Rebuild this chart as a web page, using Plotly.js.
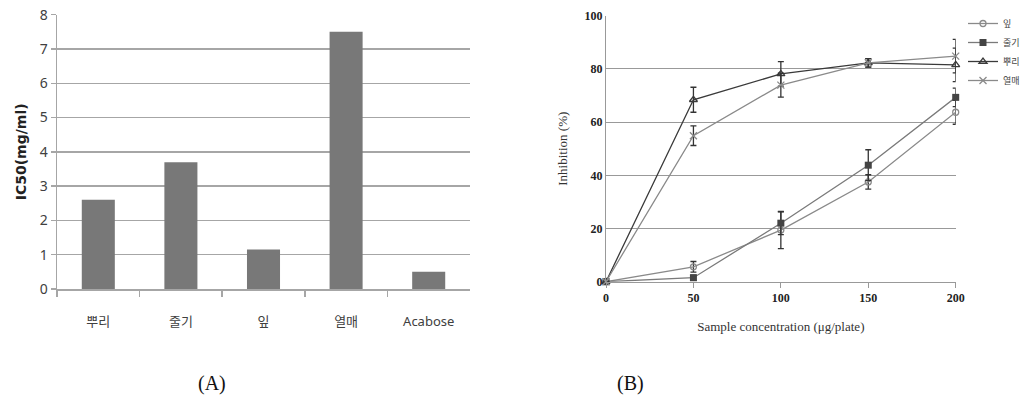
<!DOCTYPE html>
<html>
<head>
<meta charset="utf-8">
<script src="https://cdn.plot.ly/plotly-3.0.1.min.js"></script>
<style>
  html, body { margin: 0; padding: 0; background: #fff; }
  #chart { width: 1022px; height: 400px; }
</style>
</head>
<body>
<div id="chart"></div>
<script>
// (A) IC50 by plant part
const parts = ['뿌리', '줄기', '잎', '열매', 'Acabose'];
const ic50 = [2.6, 3.7, 1.15, 7.5, 0.5];

// (B) inhibition vs sample concentration
const conc = [0, 50, 100, 150, 200];
const leaf = [0, 5.6, 19.4, 37.5, 63.7];
const leafErr = [0, 2.0, 7.0, 2.7, 4.5];
const stem = [0, 1.5, 22.0, 43.8, 69.3];
const stemErr = [0, 1.0, 4.3, 5.8, 3.5];
const root = [0, 68.4, 78.1, 82.3, 81.5];
const rootErr = [0, 4.7, 4.6, 1.6, 6.3];
const fruit = [0, 54.9, 73.9, 82.3, 84.8];
const fruitErr = [0, 3.7, 4.5, 1.6, 6.3];
const seriesNames = ['잎', '줄기', '뿌리', '열매'];

const sansKR = '"Noto Sans", "Noto Sans CJK KR", sans-serif';
const serif = '"Liberation Serif", "DejaVu Serif", serif';

function errBar(vals) {
  return { type: 'data', array: vals, symmetric: true, color: '#333', thickness: 1.3, width: 3 };
}

const traces = [
  {
    type: 'bar', x: parts, y: ic50, xaxis: 'x', yaxis: 'y',
    marker: { color: '#787878' }, showlegend: false, hoverinfo: 'x+y'
  },
  {
    type: 'scatter', mode: 'lines+markers', name: seriesNames[0],
    x: conc, y: leaf, error_y: errBar(leafErr), xaxis: 'x2', yaxis: 'y2',
    line: { color: '#8a8a8a', width: 1.3 },
    marker: { symbol: 'circle-open', size: 6, color: '#8a8a8a', line: { width: 1.3 } },
    cliponaxis: false
  },
  {
    type: 'scatter', mode: 'lines+markers', name: seriesNames[1],
    x: conc, y: stem, error_y: errBar(stemErr), xaxis: 'x2', yaxis: 'y2',
    line: { color: '#7a7a7a', width: 1.3 },
    marker: { symbol: 'square', size: 7, color: '#444' },
    cliponaxis: false
  },
  {
    type: 'scatter', mode: 'lines+markers', name: seriesNames[2],
    x: conc, y: root, error_y: errBar(rootErr), xaxis: 'x2', yaxis: 'y2',
    line: { color: '#3a3a3a', width: 1.3 },
    marker: { symbol: 'triangle-up-open', size: 7, color: '#3a3a3a', line: { width: 1.3 } },
    cliponaxis: false
  },
  {
    type: 'scatter', mode: 'lines+markers', name: seriesNames[3],
    x: conc, y: fruit, error_y: errBar(fruitErr), xaxis: 'x2', yaxis: 'y2',
    line: { color: '#8a8a8a', width: 1.3 },
    marker: { symbol: 'x-thin-open', size: 7, color: '#8a8a8a', line: { width: 1.3, color: '#8a8a8a' } },
    cliponaxis: false
  }
];

const W = 1022, H = 400;
const layout = {
  width: W, height: H,
  margin: { l: 0, r: 0, t: 0, b: 0, autoexpand: false },
  paper_bgcolor: '#fff', plot_bgcolor: '#fff',
  bargap: 0.6,
  showlegend: true,
  legend: {
    xref: 'container', yref: 'container',
    x: 963 / W, y: 1 - 9 / H, xanchor: 'left', yanchor: 'top',
    font: { family: sansKR, size: 9, color: '#444' },
    itemwidth: 30, tracegroupgap: 0, bgcolor: 'rgba(0,0,0,0)'
  },
  xaxis: {
    domain: [57 / W, 470 / W], anchor: 'y',
    type: 'category', tickson: 'boundaries',
    showline: true, linecolor: '#a6a6a6', linewidth: 1.5,
    ticks: 'outside', ticklen: 6, tickcolor: '#a6a6a6', tickwidth: 1.5,
    ticklabelstandoff: 20,
    tickfont: { family: sansKR, size: 13, color: '#404040' },
    showgrid: false, zeroline: false, fixedrange: true
  },
  yaxis: {
    domain: [1 - 289 / H, 1 - 14.7 / H], anchor: 'x',
    range: [0, 8], dtick: 1,
    showline: true, linecolor: '#a6a6a6', linewidth: 1.5,
    ticks: 'outside', ticklen: 5, tickcolor: '#a6a6a6', tickwidth: 1.5,
    showgrid: true, gridcolor: '#a6a6a6', gridwidth: 1.5, zeroline: false,
    tickfont: { family: sansKR, size: 14, color: '#404040' },
    title: { text: 'IC50(mg/ml)', font: { family: '"DejaVu Sans", sans-serif', size: 14, color: '#222', weight: 'bold' }, standoff: 10 },
    fixedrange: true
  },
  xaxis2: {
    domain: [606 / W, 955.7 / W], anchor: 'y2',
    range: [0, 200], dtick: 50,
    showline: true, linecolor: '#999', linewidth: 1,
    ticks: 'outside', ticklen: 5, tickcolor: '#999',
    showgrid: false, zeroline: false,
    tickfont: { family: serif, size: 12, color: '#222', weight: 'bold' },
    title: { text: 'Sample concentration (μg/plate)', font: { family: serif, size: 13, color: '#333' }, standoff: 17 },
    fixedrange: true
  },
  yaxis2: {
    domain: [1 - 281.7 / H, 1 - 15.7 / H], anchor: 'x2',
    range: [0, 100], dtick: 20,
    showline: true, linecolor: '#999', linewidth: 1,
    ticks: '', showgrid: true, gridcolor: '#999', gridwidth: 1, zeroline: false,
    tickfont: { family: serif, size: 12, color: '#222', weight: 'bold' },
    title: { text: 'Inhibition (%)', font: { family: serif, size: 13, color: '#333' }, standoff: 14 },
    fixedrange: true
  },
  annotations: [
    { text: '(A)', xref: 'paper', yref: 'paper', x: 212 / W, y: 1 - 383 / H,
      xanchor: 'center', yanchor: 'middle', showarrow: false,
      font: { family: serif, size: 20, color: '#111' } },
    { text: '(B)', xref: 'paper', yref: 'paper', x: 630 / W, y: 1 - 383 / H,
      xanchor: 'center', yanchor: 'middle', showarrow: false,
      font: { family: serif, size: 20, color: '#111' } }
  ]
};

Plotly.newPlot('chart', traces, layout, { displayModeBar: false, staticPlot: true });
</script>
</body>
</html>
